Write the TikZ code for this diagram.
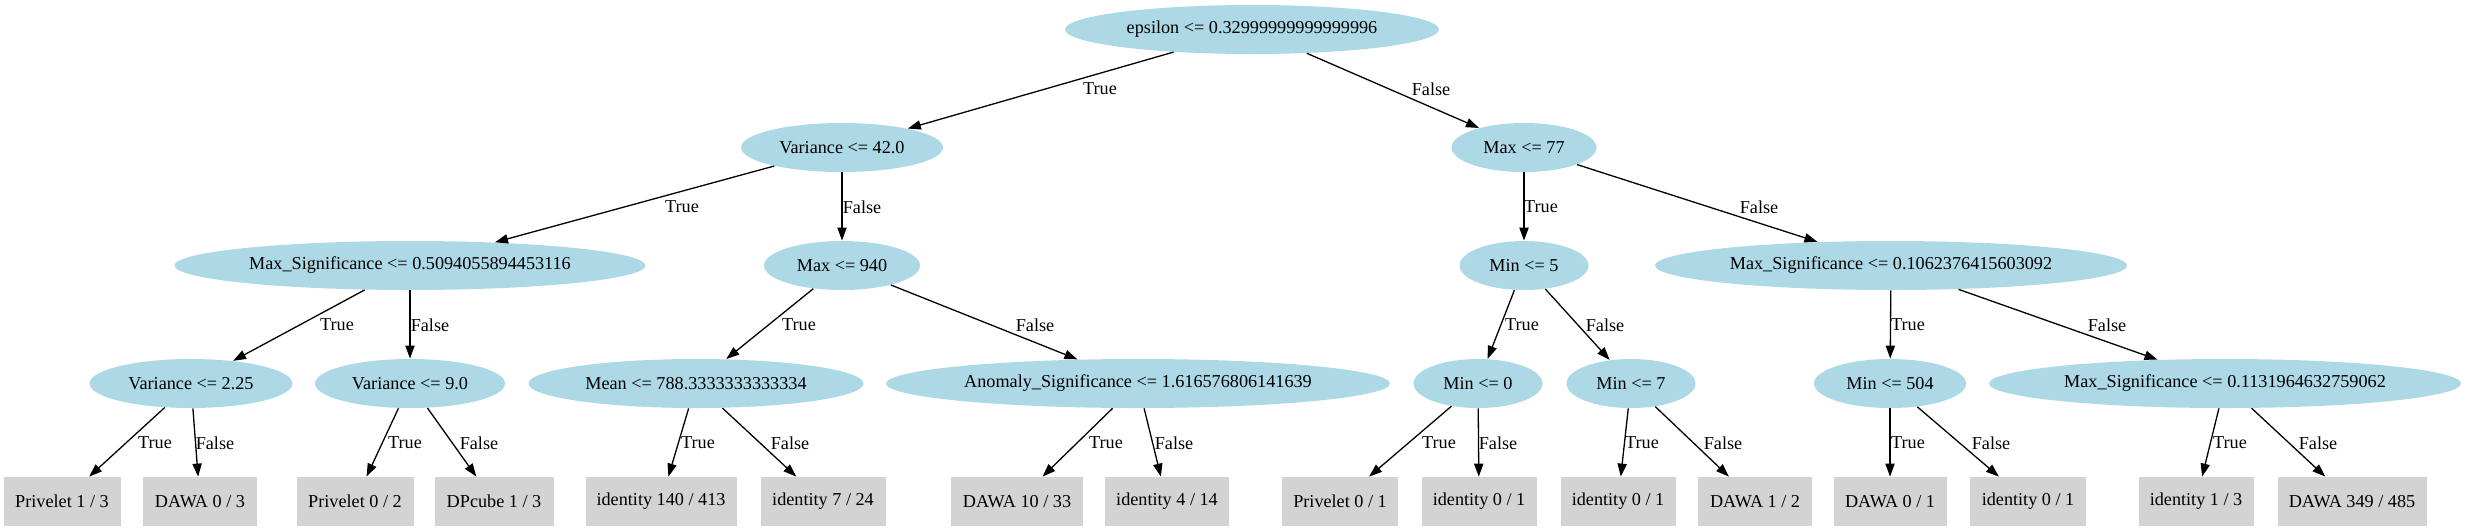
\documentclass[tikz,border=0pt]{standalone}
\usepackage{fontspec}
\setmainfont{Liberation Serif}
\usetikzlibrary{shapes.geometric,arrows.meta}
\definecolor{nodeblue}{HTML}{ADD8E6}
\definecolor{leafgray}{HTML}{D3D3D3}
\tikzset{
  base/.style={font=\fontsize{9.1pt}{11pt}\selectfont, inner sep=0pt},
  ell/.style={base, ellipse, fill=nodeblue, minimum height=24.5pt, minimum width=#1*0.5pt},
  leaf/.style={base, rectangle, fill=leafgray, minimum height=24.5pt, minimum width=#1*0.5pt},
  lbl/.style={base},
  edge/.style={line width=0.65pt, -{Triangle[length=6.5pt,width=4.6pt]}}
}
\begin{document}
\begin{tikzpicture}[x=0.5pt,y=-0.5pt]
\useasboundingbox (0,0) rectangle (2466,531);
% internal nodes
\node[ell=374] (n0) at (1252,29.5) {epsilon <= 0.32999999999999996};
\node[ell=202] (n1) at (842,147.5) {Variance <= 42.0};
\node[ell=145] (n2) at (1524,147.5) {Max <= 77};
\node[ell=471] (n3) at (410,265.5) {Max\_Significance <= 0.5094055894453116};
\node[ell=156] (n4) at (842,265.5) {Max <= 940};
\node[ell=129] (n5) at (1524,265.5) {Min <= 5};
\node[ell=472] (n6) at (1891,265.5) {Max\_Significance <= 0.1062376415603092};
\node[ell=203] (n7) at (191,383.5) {Variance <= 2.25};
\node[ell=190] (n8) at (410,383.5) {Variance <= 9.0};
\node[ell=335] (n9) at (696,383.5) {Mean <= 788.3333333333334};
\node[ell=504] (n10) at (1138,383.5) {Anomaly\_Significance <= 1.616576806141639};
\node[ell=129] (n11) at (1478,383.5) {Min <= 0};
\node[ell=129] (n12) at (1631,383.5) {Min <= 7};
\node[ell=152] (n13) at (1890,383.5) {Min <= 504};
\node[ell=472] (n14) at (2225,383.5) {Max\_Significance <= 0.1131964632759062};
% leaves
\node[leaf=117] (l1) at (62,501.5) {Privelet 1 / 3};
\node[leaf=114] (l2) at (200,501.5) {DAWA 0 / 3};
\node[leaf=117] (l3) at (355,501.5) {Privelet 0 / 2};
\node[leaf=119] (l4) at (494,501.5) {DPcube 1 / 3};
\node[leaf=151] (l5) at (661,501.5) {identity 140 / 413};
\node[leaf=125] (l6) at (823,501.5) {identity 7 / 24};
\node[leaf=132] (l7) at (1017,501.5) {DAWA 10 / 33};
\node[leaf=124] (l8) at (1167,501.5) {identity 4 / 14};
\node[leaf=116] (l9) at (1340,501.5) {Privelet 0 / 1};
\node[leaf=115] (l10) at (1479,501.5) {identity 0 / 1};
\node[leaf=115] (l11) at (1618,501.5) {identity 0 / 1};
\node[leaf=114] (l12) at (1755,501.5) {DAWA 1 / 2};
\node[leaf=113] (l13) at (1890,501.5) {DAWA 0 / 1};
\node[leaf=116] (l14) at (2028,501.5) {identity 0 / 1};
\node[leaf=115] (l15) at (2196,501.5) {identity 1 / 3};
\node[leaf=149] (l16) at (2352,501.5) {DAWA 349 / 485};
% edges
\draw[edge] (n0) -- (n1);
\draw[edge] (n0) -- (n2);
\draw[edge] (n1) -- (n3);
\draw[edge] (n1) -- (n4);
\draw[edge] (n2) -- (n5);
\draw[edge] (n2) -- (n6);
\draw[edge] (n3) -- (n7);
\draw[edge] (n3) -- (n8);
\draw[edge] (n4) -- (n9);
\draw[edge] (n4) -- (n10);
\draw[edge] (n5) -- (n11);
\draw[edge] (n5) -- (n12);
\draw[edge] (n6) -- (n13);
\draw[edge] (n6) -- (n14);
\draw[edge] (n7) -- (l1);
\draw[edge] (n7) -- (l2);
\draw[edge] (n8) -- (l3);
\draw[edge] (n8) -- (l4);
\draw[edge] (n9) -- (l5);
\draw[edge] (n9) -- (l6);
\draw[edge] (n10) -- (l7);
\draw[edge] (n10) -- (l8);
\draw[edge] (n11) -- (l9);
\draw[edge] (n11) -- (l10);
\draw[edge] (n12) -- (l11);
\draw[edge] (n12) -- (l12);
\draw[edge] (n13) -- (l13);
\draw[edge] (n13) -- (l14);
\draw[edge] (n14) -- (l15);
\draw[edge] (n14) -- (l16);
% edge labels
\node[lbl] (t0) at (1100,89) {True};
\node[lbl] (f0) at (1431,89) {False};
\node[lbl] (t1) at (682,207) {True};
\node[lbl] (f1) at (862,207) {False};
\node[lbl] (t2) at (1541,207) {True};
\node[lbl] (f2) at (1759,207) {False};
\node[lbl] (t3) at (337,325) {True};
\node[lbl] (f3) at (430,325) {False};
\node[lbl] (t4) at (799,325) {True};
\node[lbl] (f4) at (1035,325) {False};
\node[lbl] (t5) at (1522,325) {True};
\node[lbl] (f5) at (1605,325) {False};
\node[lbl] (t6) at (1908,325) {True};
\node[lbl] (f6) at (2107,325) {False};
\node[lbl] (t7) at (155,443) {True};
\node[lbl] (f7) at (215,443) {False};
\node[lbl] (t8) at (405,443) {True};
\node[lbl] (f8) at (479,443) {False};
\node[lbl] (t9) at (698,443) {True};
\node[lbl] (f9) at (790,443) {False};
\node[lbl] (t10) at (1106,443) {True};
\node[lbl] (f10) at (1174,443) {False};
\node[lbl] (t11) at (1439,443) {True};
\node[lbl] (f11) at (1498,443) {False};
\node[lbl] (t12) at (1642,443) {True};
\node[lbl] (f12) at (1723,443) {False};
\node[lbl] (t13) at (1908,443) {True};
\node[lbl] (f13) at (1991,443) {False};
\node[lbl] (t14) at (2230,443) {True};
\node[lbl] (f14) at (2318,443) {False};
\end{tikzpicture}
\end{document}
